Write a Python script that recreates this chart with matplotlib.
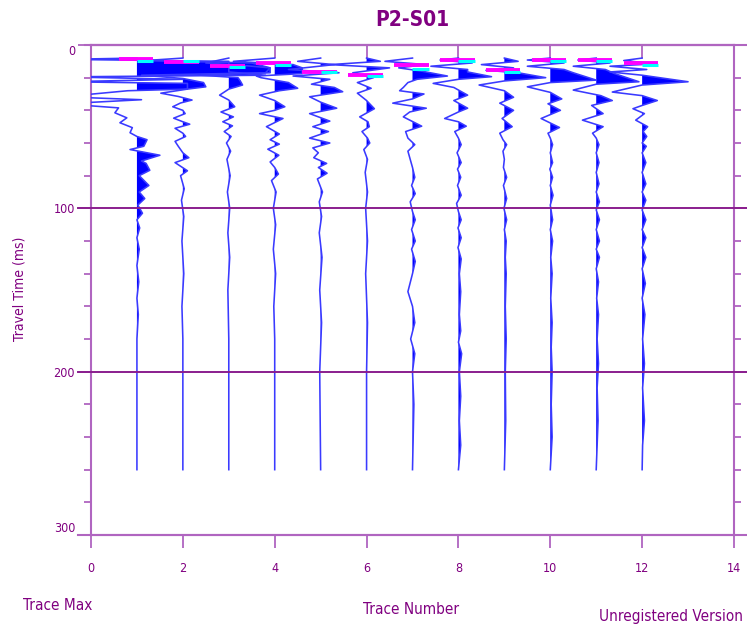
import numpy as np
import matplotlib.pyplot as plt
from matplotlib import transforms, font_manager

# trace numbers (x positions)
trace_numbers = [1, 2, 3, 4, 5, 6, 7, 8, 9, 10, 11, 12]

# wiggle traces: (time ms, amplitude in trace units)
trace_01 = [(8, 0.0), (8.8, -1.6), (10, 2.0), (16.5, 2.0), (18.5, 2.8), (19.5, -1.6), (21, 1.0),
            (22.5, -1.6), (23.5, 1.1), (27, 1.1), (28, -0.2), (31.7, -1.6), (33.5, 0.1), (36, -1.6),
            (38.5, -0.4), (41.5, -0.48), (44.6, -0.22), (47.6, -0.37), (50.6, -0.1), (53.7, -0.15),
            (56, 0.0), (58, 0.22), (62, 0.15), (64, -0.15), (67.5, 0.5), (71, 0.1), (72.5, 0.2),
            (76.7, 0.28), (80, 0.05), (86, 0.26), (90, 0.05), (94, 0.17), (98, 0.02), (103, 0.12),
            (107, 0.0), (112, 0.06), (118, 0.0), (125, 0.05), (135, 0.0), (145, 0.04), (155, 0.0),
            (165, 0.03), (180, 0.0), (260, 0.0)]
trace_02 = [(8, 0.0), (9.5, -0.8), (11, 1.5), (14, 1.9), (17, 1.8), (18.5, -0.9), (20.5, 0.0),
            (23, 0.45), (25.6, 0.5), (27, 0.1), (29.5, -0.48), (31.5, -0.1), (33.7, 0.2), (35.5, -0.05),
            (37.8, -0.22), (40, 0.0), (42, 0.05), (44.8, -0.2), (47, 0.0), (48.5, 0.15), (51, -0.17),
            (54, 0.0), (56, 0.06), (59, -0.17), (62, -0.1), (66, 0.0), (69, 0.13), (72, -0.17),
            (77, 0.1), (80, -0.05), (88, 0.03), (95, -0.03), (105, 0.02), (120, -0.02), (140, 0.02),
            (160, -0.02), (180, 0.0), (260, 0.0)]
trace_03 = [(8, 0.0), (11, -0.5), (12.5, 0.3), (14, 0.9), (17, 0.9), (18.5, -0.6), (20, 0.2),
            (22, 0.25), (24.5, 0.3), (27, 0.0), (30.7, -0.2), (33.7, 0.0), (37.8, 0.13), (41, -0.17),
            (44, 0.1), (47, -0.13), (49.5, 0.08), (53, -0.1), (56, 0.05), (60, -0.05), (65, 0.04),
            (70, -0.04), (80, 0.03), (90, -0.03), (100, 0.02), (115, -0.02), (130, 0.02),
            (150, -0.02), (180, 0.0), (260, 0.0)]
trace_04 = [(8, 0.0), (10, -0.9), (12, 0.4), (14, 0.6), (17.5, 0.6), (19, -0.4), (20, -0.3),
            (23, 0.3), (26.5, 0.5), (28, 0.1), (30.7, -0.33), (34, 0.0), (37.8, 0.22), (40, 0.0),
            (42, -0.33), (45, 0.18), (50, -0.18), (54.5, 0.1), (58, -0.1), (60.7, 0.1), (63.8, -0.15),
            (67.5, 0.09), (71.6, -0.1), (75, 0.0), (79, 0.08), (83, -0.07), (90, 0.03), (100, -0.03),
            (110, 0.02), (125, -0.03), (140, 0.02), (160, -0.02), (180, 0.0), (260, 0.0)]
trace_05 = [(8, 0.0), (10, -0.5), (12, 0.3), (15, -0.7), (17, 0.4), (19, -0.6), (21, 0.2),
            (24, -0.2), (26, 0.3), (28.6, 0.48), (31.7, -0.24), (35, 0.0), (38.7, 0.35), (42, -0.24),
            (46.6, 0.2), (50, -0.17), (53, 0.17), (57, -0.24), (60, 0.2), (63, -0.17), (66, -0.05),
            (69, -0.15), (72.5, 0.13), (75, -0.05), (78.5, 0.14), (82, -0.07), (90, 0.04), (96, -0.03),
            (105, 0.02), (115, -0.03), (130, 0.03), (150, -0.02), (170, 0.02), (200, -0.02), (260, 0.0)]
trace_06 = [(8, 0.0), (10, 0.3), (12, -0.8), (14, 0.5), (17, -0.3), (20, 0.15), (23, -0.2),
            (26.5, 0.1), (29.5, -0.2), (34, 0.0), (39, 0.17), (44, -0.15), (47, 0.03), (50, 0.06),
            (53, -0.1), (57, 0.02), (60, 0.07), (64, -0.06), (70, 0.02), (78, -0.03), (90, 0.02),
            (100, -0.02), (120, 0.02), (140, -0.02), (170, 0.02), (200, 0.0), (260, 0.0)]
trace_07 = [(8, 0.0), (10, -0.6), (12, 0.3), (14, -0.3), (16, 0.2), (19, 0.76), (21, 0.1),
            (23, -0.1), (26, -0.2), (28, -0.28), (30, 0.25), (33, 0.0), (35.6, -0.43), (38.7, 0.3),
            (41, -0.06), (44, -0.2), (49.7, 0.2), (53, -0.15), (57, -0.1), (61, 0.05), (65, -0.1),
            (70, -0.05), (75, 0.0), (81, 0.05), (86, -0.02), (91, 0.06), (96, -0.05), (102, 0.0),
            (107, 0.06), (113, -0.02), (120, 0.06), (125, -0.02), (132.5, 0.06), (140, 0.0),
            (151, -0.1), (160, 0.0), (170, 0.05), (180, -0.04), (189, 0.05), (200, 0.0), (220, 0.03),
            (260, 0.0)]
trace_08 = [(8, 0.0), (9.2, -0.4), (11, 0.3), (13, -0.6), (15, 0.2), (16.5, 0.2), (19.4, 0.72),
            (21, 0.0), (23.5, -0.55), (26, -0.1), (30.7, 0.2), (34, -0.1), (38.7, 0.2), (41, 0.0),
            (45, -0.3), (47, 0.0), (49.7, 0.17), (53, -0.08), (57, 0.0), (61, 0.06), (66, -0.03),
            (72, 0.06), (76, -0.02), (81, 0.05), (86, -0.02), (92, 0.06), (97, -0.04), (102, 0.0),
            (107, 0.06), (112, -0.01), (118, 0.06), (124, -0.01), (131, 0.06), (140, 0.02),
            (151, 0.05), (165, 0.02), (175, 0.05), (182, 0.0), (189, 0.07), (200, 0.02), (215, 0.05),
            (230, 0.02), (245, 0.05), (260, 0.0)]
trace_09 = [(8, 0.0), (10, 0.3), (12, -0.5), (14, 0.2), (15.5, -0.4), (17, 0.3), (20, 0.9),
            (22, 0.0), (24.5, -0.55), (28, 0.0), (32, 0.2), (35.6, -0.1), (40, 0.2), (45, -0.05),
            (50, 0.17), (54, -0.1), (58, -0.03), (61, 0.05), (65, -0.03), (70, 0.0), (75, -0.02),
            (81, 0.05), (86, -0.02), (94, 0.05), (100, -0.01), (107, 0.05), (113, 0.0), (120, 0.04),
            (130, 0.02), (140, 0.04), (160, 0.02), (180, 0.04), (200, 0.02), (230, 0.03), (260, 0.0)]
trace_10 = [(8, 0.0), (9.2, -0.5), (11, 0.3), (13, -0.5), (15, 0.3), (17, 0.5), (21.5, 1.0),
            (23, 0.0), (25.6, -0.5), (29, 0.0), (33, 0.25), (36, -0.05), (40, 0.22), (45, -0.2),
            (50.5, 0.2), (54, -0.05), (57, 0.0), (61, 0.05), (66, 0.0), (72, 0.05), (76, -0.01),
            (81, 0.05), (86, 0.0), (92, 0.06), (98, 0.0), (107, 0.05), (113, 0.0), (120, 0.05),
            (130, 0.01), (140, 0.04), (155, 0.01), (170, 0.04), (185, 0.02), (200, 0.04), (220, 0.02),
            (240, 0.04), (260, 0.0)]
trace_11 = [(8, 0.0), (9.2, -0.4), (11, 0.3), (13, -0.5), (15, 0.2), (17.5, 0.4), (22.5, 0.93),
            (24, 0.0), (27.6, -0.5), (31, 0.1), (34, 0.35), (37, -0.1), (42, 0.15), (46, -0.3),
            (50, 0.15), (54, -0.08), (57, 0.0), (61, 0.06), (66, 0.0), (72, 0.06), (78, 0.0),
            (85, 0.06), (90, 0.0), (96, 0.07), (101, 0.0), (107, 0.07), (113, 0.0), (120, 0.07),
            (125, 0.0), (130, 0.07), (137, 0.0), (145, 0.05), (155, 0.01), (165, 0.05), (180, 0.02),
            (195, 0.05), (210, 0.02), (230, 0.04), (260, 0.0)]
trace_12 = [(8, 0.0), (9.5, -0.4), (11.5, 0.3), (13, -0.7), (15, 0.1), (16.5, -0.7), (18.5, 0.0),
            (22.5, 1.0), (24.5, 0.0), (28.8, -0.65), (31, 0.0), (34, 0.33), (37, 0.0), (39, -0.2),
            (42, 0.05), (46, -0.14), (50, 0.12), (53, 0.02), (56, 0.1), (60, 0.0), (62, 0.09),
            (66, 0.0), (72, 0.08), (78, 0.0), (85, 0.08), (90, 0.0), (95, 0.08), (101, 0.0),
            (107, 0.08), (113, 0.0), (118, 0.08), (124, 0.0), (130, 0.08), (137, 0.0), (146, 0.07),
            (155, 0.0), (165, 0.06), (180, 0.01), (195, 0.05), (210, 0.01), (230, 0.05), (245, 0.01),
            (260, 0.0)]

# first-break picks (ms)
pick_pink_ms = [8.6, 10.4, 12.9, 11.3, 16.3, 18.4, 12.3, 9.2, 15.3, 9.2, 9.2, 11.3]
pick_cyan_ms = [9.6, 9.5, 13.6, 12.3, 16.8, 19.2, 14.7, 10.0, 16.3, 10.0, 10.0, 12.3]

x_ticks = [0, 2, 4, 6, 8, 10, 12, 14]
y_ticks = [0, 100, 200, 300]
y_minor = [20, 40, 60, 80, 120, 140, 160, 180, 220, 240, 260, 280]

traces = [trace_01, trace_02, trace_03, trace_04, trace_05, trace_06,
          trace_07, trace_08, trace_09, trace_10, trace_11, trace_12]

names = {f.name for f in font_manager.fontManager.ttflist}
fam = 'Liberation Sans Narrow' if 'Liberation Sans Narrow' in names else 'DejaVu Sans'
plt.rcParams['font.family'] = fam
plt.rcParams['font.stretch'] = 'condensed'

txt = '#800080'
frame = '#b065c0'

fig = plt.figure(figsize=(7.47, 6.30), dpi=100)
ax = fig.add_axes([91/747, 1 - 535/630, (734 - 91)/747, (535 - 45)/630])
ax.set_xlim(0, 14)
ax.set_ylim(300, 0)

for k, tr in zip(trace_numbers, traces):
    t = np.array([p[0] for p in tr])
    a = np.array([p[1] for p in tr])
    ax.fill_betweenx(t, k, k + a, where=a > 0, interpolate=True, color='#0000ff', lw=0, zorder=2)
    ax.plot(k + a, t, color='#3a3aff', lw=1.15, zorder=3)

for k, tp, tc in zip(trace_numbers, pick_pink_ms, pick_cyan_ms):
    ax.plot([k - 0.4, k + 0.35], [tp, tp], color='#ff00ff', lw=2.8, solid_capstyle='butt', zorder=4)
    ax.plot([k, k + 0.35], [tc, tc], color='#00ffff', lw=2.2, solid_capstyle='butt', zorder=4)

# horizontal lines at 100 and 200 ms, running past the frame
blend = transforms.blended_transform_factory(ax.transAxes, ax.transData)
for yv in [100, 200]:
    ax.plot([-0.02, 1.022], [yv, yv], transform=blend, clip_on=False, color='#8a1e8e', lw=1.4, zorder=5)

# frame lines running a little past the corners
ax.plot([-0.02, 1.018], [0, 0], transform=ax.transAxes, clip_on=False, color=frame, lw=1.5)
ax.plot([-0.01, 1.022], [1, 1], transform=ax.transAxes, clip_on=False, color=frame, lw=1.5)

for s in ax.spines.values():
    s.set_color(frame)
    s.set_linewidth(1.5)

ax.set_xticks(x_ticks, labels=[str(v) for v in x_ticks])
ax.set_yticks(y_ticks, labels=[str(v) for v in y_ticks])
ax.set_yticks(y_minor, minor=True)
ax.tick_params(axis='x', direction='out', length=9.5, width=1.3, color=frame,
               labelsize=9, labelcolor=txt, pad=10)
ax.tick_params(axis='y', which='major', direction='out', length=9.5, width=1.3, color=frame,
               labelsize=9, labelcolor=txt, pad=2, right=True)
ax.tick_params(axis='y', which='minor', direction='out', length=5, width=1.3, color=frame, right=True)
labs = ax.get_yticklabels()
labs[0].set_va('top')
labs[-1].set_va('bottom')

top = ax.secondary_xaxis('top')
top.set_xticks([2, 4, 6, 8, 10, 12])
top.tick_params(direction='in', length=9.5, width=1.3, color=frame, labeltop=False)
top.spines['top'].set_color(frame)
top.spines['top'].set_linewidth(1.5)

fig.text(412/747, 1 - 20/630, 'P2-S01', ha='center', va='center', fontsize=15,
         fontweight='bold', color=txt)
fig.text(20/747, 1 - 289/630, 'Travel Time (ms)', rotation=90, ha='center', va='center',
         fontsize=10, color=txt)
fig.text(23/747, 1 - 605/630, 'Trace Max', ha='left', va='center', fontsize=11, color=txt)
fig.text(411/747, 1 - 610/630, 'Trace Number', ha='center', va='center', fontsize=11, color=txt)
fig.text(743/747, 1 - 617/630, 'Unregistered Version', ha='right', va='center', fontsize=11, color=txt)

fig.savefig('out.png', dpi=100)
